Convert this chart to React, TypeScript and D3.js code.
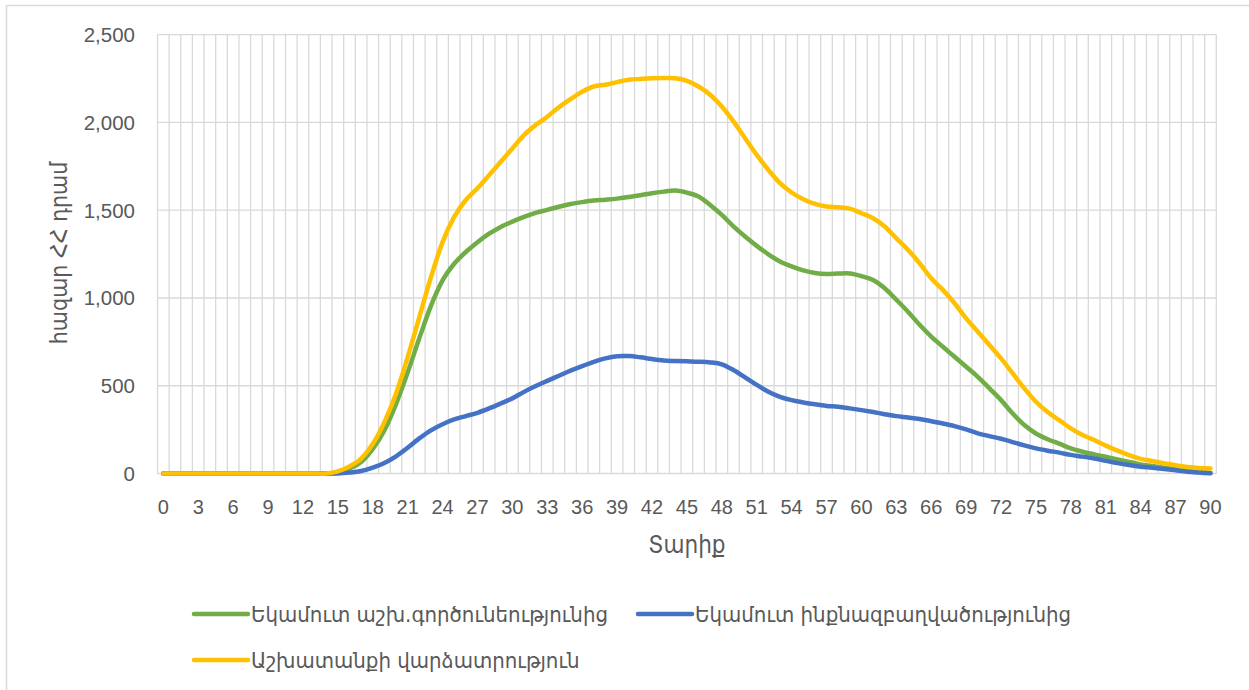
import React from "react";
import * as d3 from "d3";

const ages: number[] = d3.range(0, 91);

const laborIncome: number[] = [
  0, 0, 0, 0, 0, 0, 0, 0, 0, 0, 0, 0, 0, 0, 0,
  6, 28, 65, 140, 245, 395, 575, 770, 955, 1100,
  1195, 1262, 1318, 1366, 1405, 1435, 1462, 1485, 1502, 1520,
  1535, 1546, 1555, 1560, 1566, 1575, 1585, 1597, 1606, 1612,
  1600, 1578, 1530, 1473, 1408, 1350, 1297, 1249, 1208, 1180,
  1157, 1142, 1136, 1139, 1140, 1125, 1102, 1055, 990, 922,
  847, 780, 722, 665, 608, 551, 485, 418, 342, 276,
  228, 195, 170, 143, 124, 109, 95, 80, 66, 52,
  43, 33, 24, 16, 9, 3,
];

const selfEmployment: number[] = [
  0, 0, 0, 0, 0, 0, 0, 0, 0, 0, 0, 0, 0, 0, 0,
  0, 5, 14, 33, 60, 98, 147, 200, 246, 281,
  308, 327, 346, 371, 399, 428, 465, 498, 528, 557,
  586, 612, 636, 656, 668, 669, 662, 652, 644, 641,
  639, 637, 633, 622, 590, 548, 505, 466, 437, 418,
  405, 394, 385, 380, 371, 361, 350, 338, 327, 319,
  310, 298, 285, 270, 251, 229, 213, 198, 179, 160,
  143, 130, 119, 106, 96, 85, 72, 59, 48, 39,
  33, 26, 18, 10, 5, 1,
];

const wages: number[] = [
  0, 0, 0, 0, 0, 0, 0, 0, 0, 0, 0, 0, 0, 0, 0,
  12, 40, 85, 168, 293, 455, 662, 890, 1118, 1318,
  1462, 1558, 1625, 1700, 1776, 1852, 1928, 1985, 2033, 2087,
  2133, 2175, 2205, 2215, 2230, 2243, 2248, 2252, 2253, 2252,
  2237, 2205, 2158, 2091, 2006, 1910, 1815, 1730, 1654, 1601,
  1563, 1536, 1521, 1517, 1509, 1483, 1454, 1407, 1340, 1274,
  1198, 1112, 1046, 970, 884, 808, 732, 656, 570, 485,
  409, 350, 304, 257, 219, 191, 159, 130, 105, 83,
  71, 58, 47, 37, 31, 29,
];

const yTicks: number[] = [0, 500, 1000, 1500, 2000, 2500];
const xTickLabels: number[] = d3.range(0, 91, 3);

const seriesNames: string[] = [
  "Եկամուտ աշխ.գործունեությունից",
  "Եկամուտ ինքնազբաղվածությունից",
  "Աշխատանքի վարձատրություն",
];
const seriesColors: string[] = ["#70AD47", "#4472C4", "#FFC000"];
const seriesData: number[][] = [laborIncome, selfEmployment, wages];

const yTitle = "հազար ՀՀ դրամ";
const xTitle = "Տարիք";

export default function App() {
  const W = 1249;
  const H = 690;
  const left = 157.5;
  const right = 1216.3;
  const top = 34.7;
  const bottom = 473.5;

  const x = d3.scaleBand<number>().domain(ages).range([left, right]).paddingInner(0).paddingOuter(0);
  const cx = (a: number) => (x(a) as number) + x.bandwidth() / 2;
  const y = d3.scaleLinear().domain([0, 2500]).range([bottom, top]);

  const line = d3
    .line<number>()
    .x((_, i) => cx(ages[i]))
    .y((d) => y(d))
    .curve(d3.curveCatmullRom.alpha(0));

  const fmt = d3.format(",");
  const textColor = "#595959";
  const grid = "#D9D9D9";
  const font = "'Liberation Sans', 'DejaVu Sans', sans-serif";
  const armFont = "'DejaVu Sans Condensed', 'DejaVu Sans', sans-serif";

  const vLines = ages.map((a) => x(a) as number).concat([right]);

  const legendItems = [
    { i: 0, lx: 194, ly: 614 },
    { i: 1, lx: 638, ly: 614 },
    { i: 2, lx: 194, ly: 660 },
  ];

  return (
    <svg
      width={W}
      height={H}
      style={{ position: "absolute", left: 0, top: 0, background: "#fff" }}
    >
      <rect x={0} y={0} width={W} height={H} fill="#fff" />
      <line x1={6.5} y1={5.5} x2={W} y2={5.5} stroke={grid} strokeWidth={1.5} />
      <line x1={6.5} y1={5.5} x2={6.5} y2={H} stroke={grid} strokeWidth={1.5} />

      {vLines.map((vx, i) => (
        <line key={"v" + i} x1={vx} x2={vx} y1={top} y2={bottom} stroke={grid} strokeWidth={1.3} />
      ))}
      {yTicks.map((t) => (
        <line key={"h" + t} x1={left} x2={right} y1={y(t)} y2={y(t)} stroke={grid} strokeWidth={1.3} />
      ))}

      {yTicks.map((t) => (
        <text
          key={"yt" + t}
          x={135}
          y={y(t)}
          dy="0.36em"
          textAnchor="end"
          fontFamily={font}
          fontSize={20.5}
          fill={textColor}
        >
          {fmt(t)}
        </text>
      ))}

      {xTickLabels.map((a) => (
        <text
          key={"xt" + a}
          x={cx(a)}
          y={514}
          textAnchor="middle"
          fontFamily={font}
          fontSize={20}
          fill={textColor}
        >
          {a}
        </text>
      ))}

      <text
        x={(left + right) / 2}
        y={553}
        textAnchor="middle"
        fontFamily={armFont}
        fontSize={24}
        fill={textColor}
      >
        {xTitle}
      </text>
      <text
        transform={`translate(67,253) rotate(-90)`}
        textAnchor="middle"
        fontFamily={armFont}
        fontSize={23}
        fill={textColor}
      >
        {yTitle}
      </text>

      {seriesData.map((s, i) => (
        <path
          key={"s" + i}
          d={line(s) || ""}
          fill="none"
          stroke={seriesColors[i]}
          strokeWidth={4.5}
          strokeLinecap="round"
          strokeLinejoin="round"
        />
      ))}

      {legendItems.map(({ i, lx, ly }) => (
        <g key={"lg" + i}>
          <line
            x1={lx}
            x2={lx + 54}
            y1={ly}
            y2={ly}
            stroke={seriesColors[i]}
            strokeWidth={4.5}
            strokeLinecap="round"
          />
          <text
            x={lx + 57}
            y={ly}
            dy="0.36em"
            fontFamily={armFont}
            fontSize={22}
            fill={textColor}
          >
            {seriesNames[i]}
          </text>
        </g>
      ))}
    </svg>
  );
}
